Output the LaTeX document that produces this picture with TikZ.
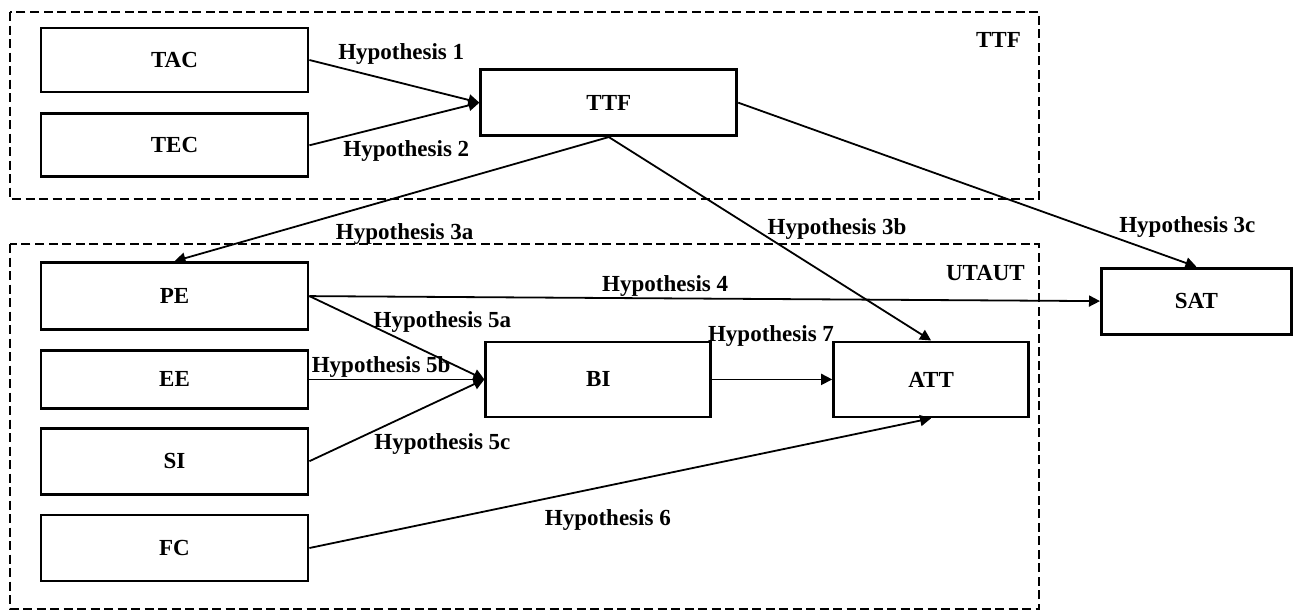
\documentclass[tikz,border=0pt]{standalone}
\usepackage{fontspec}
\setmainfont{Liberation Serif}
\usepackage{tikz}
\usetikzlibrary{arrows.meta,positioning,calc}
\newcommand{\hypfont}{\fontsize{23}{26}\selectfont\bfseries}

\begin{document}
\begin{tikzpicture}[x=1pt, y=-1pt,
		box/.style={rectangle, draw, line width=2.8pt, minimum width=267pt, minimum height=66pt, font=\hypfont},
		hyp/.style={-{Triangle[length=11pt,width=11pt]}, line width=1.8pt},
		hlab/.style={inner sep=1pt, font=\hypfont},
		group/.style={draw, line width=2.8pt, dash pattern=on 9pt off 4.5pt}]
				\useasboundingbox (0,0) rectangle (1295,611);
				
				% TTF
				\draw[group] (10,12) rectangle (1039,199);
				\node[hlab, anchor=east] (lblTTF) at (1022,40) {TTF};
				\node[box, minimum height=64pt] (TAC) at (174.5,60) {TAC};
				\node[box, minimum height=63pt, below=19pt of TAC] (TEC) {TEC};
				\coordinate (mid) at ($(TAC.east)!0.5!(TEC.east)$);
				\node[box, minimum width=256pt, right=170pt of mid] (TTF) {TTF};
				
				% UTAUT
				\draw[group] (10,244) rectangle (1039,609);
				\node[hlab, anchor=east] (lblUTAUT) at (1026,273) {UTAUT};
				\node[box, minimum height=67pt, below=83pt of TEC] (PE) {PE};
				\node[box, minimum height=58pt, below=18pt of PE] (EE) {EE};
				\node[box, below=17pt of EE] (SI) {SI};
				\node[box, below=18pt of SI] (FC) {FC};
				\node[box, minimum width=225pt, minimum height=75pt, right=175pt of EE] (BI) {BI};
				\node[box, minimum width=195pt, minimum height=75pt, right=120pt of BI] (ATT) {ATT};
				\node[box, minimum width=190pt, above right=5pt and 70pt of ATT] (SAT) {SAT};
				
				% Ipotesi
				\draw[hyp] (TAC.east) -- node[hlab, pos=0.54, above=17pt] {Hypothesis 1} (TTF.west);
				\draw[hyp] (TEC.east) -- node[hlab, pos=0.57, below=18pt] {Hypothesis 2} (TTF.west);
				\draw[hyp] (TTF.south) -- node[hlab, pos=0.47, below=26pt] {Hypothesis 3a} (PE.north);
				\draw[hyp] (TTF.south) -- node[hlab, pos=0.45, right=12pt] {Hypothesis 3b} (ATT.north);
				\draw[hyp] (TTF.east) -- node[hlab, pos=0.76, right=31pt] {Hypothesis 3c} (SAT.north);
				\draw[hyp] (PE.east) -- node[hlab, pos=0.45, above=0pt] {Hypothesis 4} (SAT.west);
				\draw[hyp] (PE.east) -- node[hlab, pos=0.76, above=25pt] {Hypothesis 5a} (BI.west);
				\draw[hyp] (EE.east) -- node[hlab, pos=0.41, above=0pt] {Hypothesis 5b} (BI.west);
				\draw[hyp] (SI.east) -- node[hlab, pos=0.76, below=33pt] {Hypothesis 5c} (BI.west);
				\draw[hyp] (FC.east) -- node[hlab, pos=0.48, below=22pt] {Hypothesis 6} (ATT.south);
				\draw[hyp] (BI.east) -- node[hlab, pos=0.49, above=31pt] {Hypothesis 7} (ATT.west);
\end{tikzpicture}
\end{document}
